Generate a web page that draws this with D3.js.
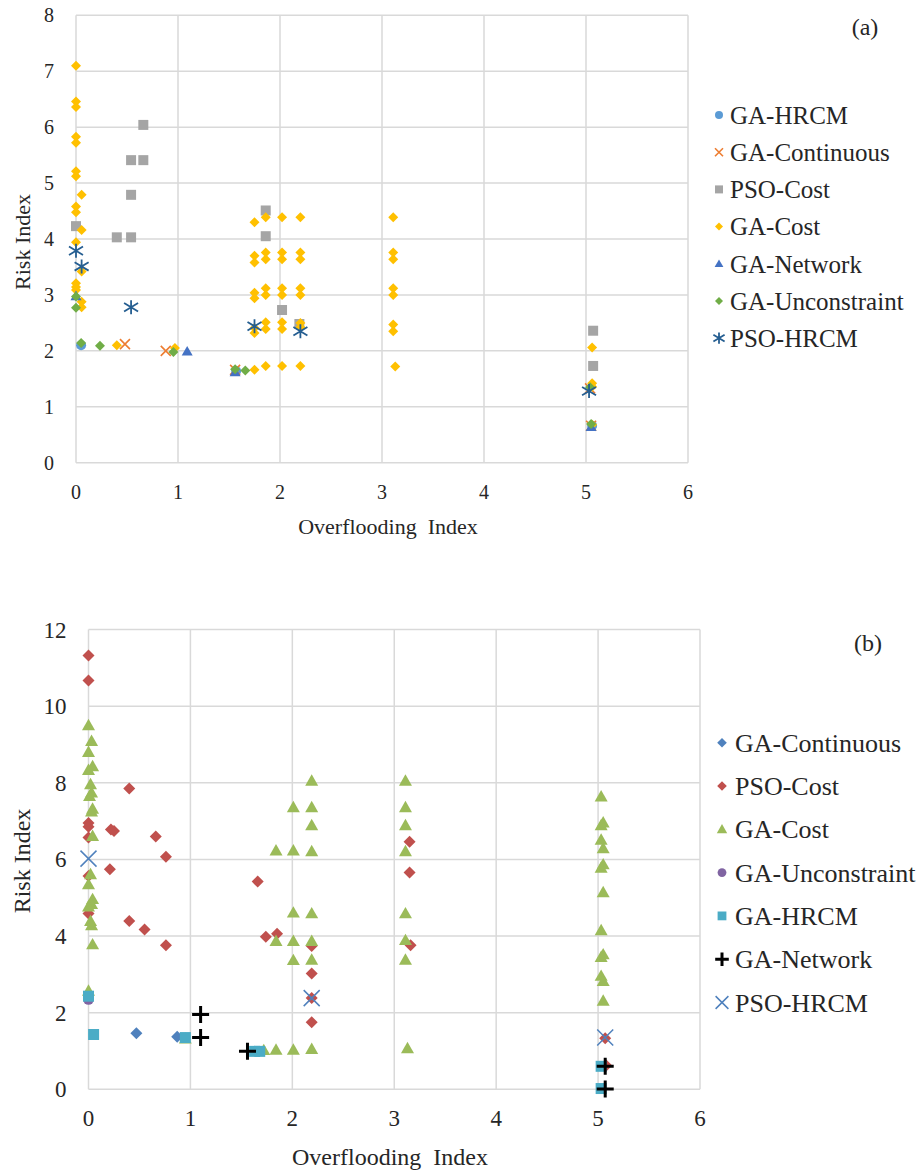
<!DOCTYPE html>
<html>
<head>
<meta charset="utf-8">
<script src="https://cdn.jsdelivr.net/npm/d3@7"></script>
<style>
  body { margin: 0; background: #fff; }
  svg { display: block; }
  text { font-family: "Liberation Serif", "Times New Roman", serif; fill: #262626; white-space: pre; }
</style>
</head>
<body>
<div id="chart"></div>
<script>
// ---- panel (a) data: [overflooding index, risk index] ----
var aNames = ["GA-HRCM", "GA-Continuous", "PSO-Cost", "GA-Cost", "GA-Network", "GA-Unconstraint", "PSO-HRCM"];
var aGAHRCM = [[0.05, 2.10], [1.57, 1.64], [5.06, 0.66]];
var aGAContinuous = [[0.48, 2.12], [0.88, 2.00], [1.56, 1.66], [5.04, 1.33], [5.05, 0.66]];
var aPSOCost = [[0, 4.23], [0.40, 4.03], [0.54, 4.03], [0.54, 4.79], [0.54, 5.41], [0.66, 5.41],
    [0.66, 6.04], [1.86, 4.51], [1.86, 4.05], [2.02, 2.73], [2.19, 2.48], [5.07, 2.36], [5.07, 1.73]];
var aGACost = [[0, 7.10], [0, 6.46], [0, 6.36], [0, 5.83], [0, 5.72], [0, 5.21], [0, 5.12], [0, 4.58],
    [0, 4.48], [0, 3.94], [0, 3.21], [0, 3.14], [0, 3.09],
    [0.055, 4.79], [0.055, 4.16], [0.055, 3.42], [0.055, 2.88], [0.055, 2.78],
    [0.40, 2.10], [0.97, 2.05],
    [1.75, 4.30], [1.75, 3.70], [1.75, 3.58], [1.75, 3.04], [1.75, 2.94], [1.75, 2.41], [1.75, 2.32], [1.75, 1.66],
    [1.86, 4.39], [1.86, 3.76], [1.86, 3.64], [1.86, 3.12], [1.86, 3.00], [1.86, 2.51], [1.86, 2.39], [1.86, 1.73],
    [2.02, 4.39], [2.02, 3.76], [2.02, 3.64], [2.02, 3.12], [2.02, 3.00], [2.02, 2.51], [2.02, 2.39], [2.02, 1.73],
    [2.20, 4.39], [2.20, 3.76], [2.20, 3.64], [2.20, 3.12], [2.20, 3.00], [2.20, 2.50], [2.20, 2.42], [2.20, 1.73],
    [3.11, 4.39], [3.11, 3.76], [3.11, 3.64], [3.11, 3.12], [3.11, 3.00], [3.11, 2.47], [3.11, 2.35], [3.13, 1.72],
    [5.06, 2.06], [5.06, 1.42], [5.06, 1.36], [5.06, 0.68]];
var aGANetwork = [[0, 2.98], [1.09, 1.99], [1.56, 1.62], [5.05, 0.64]];
var aGAUnconstraint = [[0, 2.97], [0, 2.77], [0.05, 2.14], [0.235, 2.09], [0.955, 1.98],
    [1.56, 1.67], [1.66, 1.65], [5.04, 1.35], [5.05, 0.69]];
var aPSOHRCM = [[0, 3.79], [0.055, 3.51], [0.54, 2.78], [1.75, 2.44], [2.20, 2.35], [5.03, 1.28]];

// ---- panel (b) data ----
var bNames = ["GA-Continuous", "PSO-Cost", "GA-Cost", "GA-Unconstraint", "GA-HRCM", "GA-Network", "PSO-HRCM"];
var bGAContinuous = [[0.47, 1.46], [0.87, 1.37]];
var bPSOCost = [[0, 11.32], [0, 10.67], [0.40, 7.85], [0, 6.95], [0, 6.85], [0.22, 6.78], [0.25, 6.74],
    [0, 6.57], [0.66, 6.60], [0.76, 6.07], [0.21, 5.74], [0, 5.57], [0, 4.59], [0.40, 4.39], [0.55, 4.17],
    [0.76, 3.76], [1.66, 5.42], [1.74, 3.98], [1.85, 4.06], [2.19, 3.74], [2.19, 3.02], [2.19, 2.38],
    [2.19, 1.75], [3.15, 6.46], [3.15, 5.66], [3.16, 3.76], [5.07, 1.33], [5.08, 0.62]];
var bGACost = [[0, 9.50], [0.03, 9.09], [0, 8.80], [0.04, 8.43], [0, 8.33], [0.02, 7.96], [0.03, 7.74],
    [0.01, 7.65], [0.04, 7.32], [0.03, 7.25], [0.04, 6.61], [0.02, 5.61], [0, 5.35], [0.04, 4.96],
    [0.03, 4.83], [0, 4.77], [0.02, 4.39], [0.03, 4.28], [0.04, 3.78], [0, 2.57], [0.95, 1.32], [1.72, 1.02],
    [1.84, 6.23], [1.84, 3.87], [1.84, 1.03],
    [2.01, 7.36], [2.01, 6.23], [2.01, 4.61], [2.01, 3.87], [2.01, 3.37], [2.01, 1.03],
    [2.19, 8.05], [2.19, 7.36], [2.19, 6.89], [2.19, 6.21], [2.19, 4.59], [2.19, 3.87], [2.19, 3.38], [2.19, 1.05],
    [3.11, 8.05], [3.11, 7.36], [3.11, 6.89], [3.11, 6.21], [3.11, 4.59], [3.11, 3.89], [3.11, 3.38], [3.13, 1.07],
    [5.03, 7.64], [5.05, 6.96], [5.03, 6.89], [5.03, 6.51], [5.05, 6.29], [5.05, 5.87], [5.03, 5.78],
    [5.05, 5.14], [5.03, 4.15], [5.05, 3.52], [5.03, 3.45], [5.03, 2.96], [5.05, 2.82], [5.05, 2.31]];
var bGAUnconstraint = [[0, 2.35]];
var bGAHRCM = [[0, 2.43], [0.05, 1.43], [0.95, 1.35], [1.63, 0.99], [1.68, 0.99], [5.03, 0.60], [5.03, 0.02]];
var bGANetwork = [[1.10, 1.95], [1.10, 1.35], [1.56, 0.99], [5.07, 0.60], [5.07, 0.01]];
var bPSOHRCM = [[0, 6.02], [2.19, 2.38], [5.07, 1.35]];

var xTicks = [0, 1, 2, 3, 4, 5, 6];
var aYTicks = [0, 1, 2, 3, 4, 5, 6, 7, 8];
var bYTicks = [0, 2, 4, 6, 8, 10, 12];

function markerPath(type, s) {
    var h = s / 2;
    if (type == "circle") {
        return d3.symbol().type(d3.symbolCircle).size(Math.PI * h * h)();
    }
    if (type == "square") {
        return "M" + (-h) + "," + (-h) + "h" + s + "v" + s + "h" + (-s) + "Z";
    }
    if (type == "diamond") {
        return "M0," + (-h) + "L" + h + ",0L0," + h + "L" + (-h) + ",0Z";
    }
    if (type == "triangle") {
        return "M0," + (-h) + "L" + h + "," + (h * 0.75) + "L" + (-h) + "," + (h * 0.75) + "Z";
    }
    if (type == "x") {
        return "M" + (-h) + "," + (-h) + "L" + h + "," + h + "M" + h + "," + (-h) + "L" + (-h) + "," + h;
    }
    if (type == "plus") {
        return "M" + (-h) + ",0L" + h + ",0M0," + (-h) + "L0," + h;
    }
    // asterisk: x plus vertical bar
    return "M" + (-h) + "," + (-h * 0.6) + "L" + h + "," + (h * 0.6) + "M" + h + "," + (-h * 0.6) +
        "L" + (-h) + "," + (h * 0.6) + "M0," + (-h) + "L0," + h;
}

function isLine(type) {
    return type == "x" || type == "plus" || type == "asterisk";
}

function drawPanel(svg, p) {
    var x = d3.scaleLinear().domain([0, 6]).range([p.left, p.right]);
    var y = d3.scaleLinear().domain([0, p.yMax]).range([p.bottom, p.top]);

    var grid = svg.append("g");
    grid.selectAll("line.v")
        .data(xTicks)
        .enter().append("line")
            .attr("x1", function(d) { return x(d); })
            .attr("x2", function(d) { return x(d); })
            .attr("y1", p.top)
            .attr("y2", p.bottom)
            .attr("stroke", "#d9d9d9")
            .attr("stroke-width", 1.5);
    grid.selectAll("line.h")
        .data(p.yTicks)
        .enter().append("line")
            .attr("x1", p.left)
            .attr("x2", p.right)
            .attr("y1", function(d) { return y(d); })
            .attr("y2", function(d) { return y(d); })
            .attr("stroke", "#d9d9d9")
            .attr("stroke-width", 1.5);

    svg.append("g").selectAll("text")
        .data(p.yTicks)
        .enter().append("text")
            .attr("x", p.left - 22)
            .attr("y", function(d) { return y(d); })
            .attr("dy", "0.35em")
            .style("text-anchor", "end")
            .style("font-size", p.tickFont + "px")
            .text(function(d) { return d; });

    svg.append("g").selectAll("text")
        .data(xTicks)
        .enter().append("text")
            .attr("x", function(d) { return x(d); })
            .attr("y", p.bottom + 29)
            .attr("dy", "0.35em")
            .style("text-anchor", "middle")
            .style("font-size", p.tickFont + "px")
            .text(function(d) { return d; });

    svg.append("text")
        .attr("x", p.xTitleX)
        .attr("y", p.xTitleY)
        .attr("dy", "0.35em")
        .style("text-anchor", "middle")
        .style("font-size", p.titleFont + "px")
        .text("Overflooding  Index");

    svg.append("text")
        .attr("transform", "translate(22," + p.yTitleY + ") rotate(-90)")
        .attr("dy", "0.35em")
        .style("text-anchor", "middle")
        .style("font-size", p.titleFont + "px")
        .text("Risk Index");

    svg.append("text")
        .attr("x", p.tag[0])
        .attr("y", p.tag[1])
        .attr("dy", "0.35em")
        .style("text-anchor", "middle")
        .style("font-size", "24px")
        .text(p.tagText);

    // series, in legend order so later ones sit on top
    p.series.forEach(function(s) {
        svg.append("g").selectAll("path")
            .data(s.data)
            .enter().append("path")
                .attr("transform", function(d) {
                    return "translate(" + x(d[0]) + "," + y(d[1]) + ")";
                })
                .attr("d", markerPath(s.shape, s.size))
                .attr("fill", isLine(s.shape) ? "none" : s.color)
                .attr("stroke", isLine(s.shape) ? s.color : "none")
                .attr("stroke-width", s.stroke || 0);
    });

    var legend = svg.append("g");
    var ents = legend.selectAll("g")
        .data(p.series)
        .enter().append("g")
            .attr("transform", function(d, i) {
                return "translate(" + p.legendX + "," + (p.legendY + p.legendStep * i) + ")";
            });
    ents.append("path")
        .attr("d", function(d) { return markerPath(d.shape, d.size * 0.8); })
        .attr("fill", function(d) { return isLine(d.shape) ? "none" : d.color; })
        .attr("stroke", function(d) { return isLine(d.shape) ? d.color : "none"; })
        .attr("stroke-width", function(d) { return d.stroke || 0; });
    ents.append("text")
        .attr("x", p.legendText)
        .attr("dy", "0.35em")
        .style("font-size", p.legendFont + "px")
        .text(function(d) { return d.name; });
}

var svg = d3.select("#chart").append("svg")
    .attr("width", 924)
    .attr("height", 1173);

drawPanel(svg.append("g"), {
    left: 76, right: 688, top: 15.3, bottom: 462.7, yMax: 8, yTicks: aYTicks,
    tickFont: 20, titleFont: 22, legendFont: 25,
    xTitleX: 388, xTitleY: 526, yTitleY: 242, tag: [865, 27], tagText: "(a)",
    legendX: 719, legendText: 11, legendY: 115, legendStep: 37.2,
    series: [
        {name: aNames[0], data: aGAHRCM, shape: "circle", size: 10, color: "#5b9bd5"},
        {name: aNames[1], data: aGAContinuous, shape: "x", size: 10, color: "#ed7d31", stroke: 1.6},
        {name: aNames[2], data: aPSOCost, shape: "square", size: 10, color: "#a5a5a5"},
        {name: aNames[3], data: aGACost, shape: "diamond", size: 10, color: "#ffc000"},
        {name: aNames[4], data: aGANetwork, shape: "triangle", size: 11, color: "#4472c4"},
        {name: aNames[5], data: aGAUnconstraint, shape: "diamond", size: 10, color: "#70ad47"},
        {name: aNames[6], data: aPSOHRCM, shape: "asterisk", size: 14, color: "#255e91", stroke: 1.8}
    ]
});

drawPanel(svg.append("g"), {
    left: 88.5, right: 700, top: 629.5, bottom: 1089.3, yMax: 12, yTicks: bYTicks,
    tickFont: 23, titleFont: 24, legendFont: 26,
    xTitleX: 390, xTitleY: 1157, yTitleY: 861, tag: [868, 643], tagText: "(b)",
    legendX: 722, legendText: 13, legendY: 742.7, legendStep: 43.3,
    series: [
        {name: bNames[0], data: bGAContinuous, shape: "diamond", size: 12, color: "#4f81bd"},
        {name: bNames[1], data: bPSOCost, shape: "diamond", size: 12, color: "#c0504d"},
        {name: bNames[2], data: bGACost, shape: "triangle", size: 13, color: "#9bbb59"},
        {name: bNames[3], data: bGAUnconstraint, shape: "circle", size: 11, color: "#8064a2"},
        {name: bNames[4], data: bGAHRCM, shape: "square", size: 11, color: "#4bacc6"},
        {name: bNames[5], data: bGANetwork, shape: "plus", size: 17, color: "#000000", stroke: 3},
        {name: bNames[6], data: bPSOHRCM, shape: "x", size: 16, color: "#4f81bd", stroke: 1.5}
    ]
});
</script>
</body>
</html>
